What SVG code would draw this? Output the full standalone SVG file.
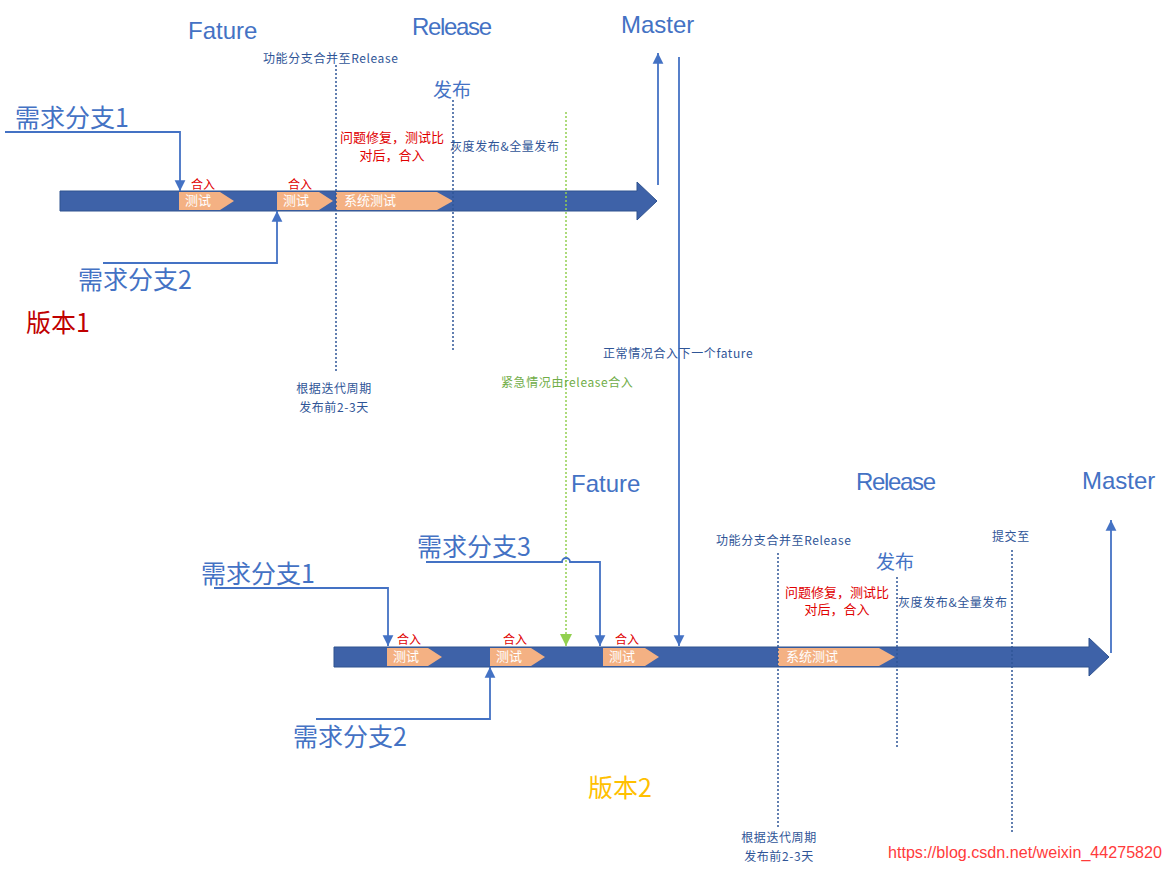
<svg xmlns="http://www.w3.org/2000/svg" width="1172" height="871" viewBox="0 0 1172 871">
<style>
.bar{fill:#3E62A8;stroke:#2F528F;stroke-width:1}
.box{fill:#F4B183}
.boxt{font-family:"Noto Sans CJK SC",sans-serif;font-size:13px;fill:#FFFFFF}
.he{font-family:"Noto Sans CJK SC",sans-serif;font-size:12px;fill:#E00000}
.big{font-family:"Liberation Sans",Arial,sans-serif;font-size:24px;fill:#4472C4}
.br{font-family:"Noto Sans CJK SC",sans-serif;font-size:25px;fill:#4472C4}
.sm{font-family:"Noto Sans CJK SC",sans-serif;font-size:12px;fill:#2F5597;letter-spacing:0.6px}
.red{font-family:"Noto Sans CJK SC",sans-serif;font-size:13px;fill:#E00000}
.fb{font-family:"Noto Sans CJK SC",sans-serif;font-size:19px;fill:#4472C4}
.conn{fill:none;stroke:#4472C4;stroke-width:1.8}
.dot{fill:none;stroke:#2F5597;stroke-width:1.5;stroke-dasharray:2 2}
.gdot{fill:none;stroke:#92D050;stroke-width:1.5;stroke-dasharray:2 2}
</style>
<defs>
<marker id="ab" viewBox="0 0 10 10" refX="10" refY="5" markerWidth="6" markerHeight="7" markerUnits="strokeWidth" orient="auto"><path d="M0,0 L10,5 L0,10 Z" fill="#4472C4"/></marker>
<marker id="ag" viewBox="0 0 10 10" refX="10" refY="5" markerWidth="8" markerHeight="8" markerUnits="strokeWidth" orient="auto"><path d="M0,0 L10,5 L0,10 Z" fill="#92D050"/></marker>
</defs>

<g id="timeline1">
<path class="bar" d="M60,191 H637 V182 L657,201 L637,220 V211 H60 Z"/>
<path class="box" d="M179,192 H220 L234,201 L220,210 H179 Z"/>
<path class="box" d="M277,192 H319 L333,201 L319,210 H277 Z"/>
<path class="box" d="M336,192 H437 L453,201 L437,210 H336 Z"/>
<text class="boxt" x="185" y="205">测试</text>
<text class="boxt" x="283" y="205">测试</text>
<text class="boxt" x="344" y="205">系统测试</text>
<text class="he" x="191" y="189">合入</text>
<text class="he" x="288" y="189">合入</text>
</g>

<g id="timeline2">
<path class="bar" d="M334,647 H1089 V638 L1109,657 L1089,676 V667 H334 Z"/>
<path class="box" d="M387,648 H428 L442,657 L428,666 H387 Z"/>
<path class="box" d="M490,648 H531 L545,657 L531,666 H490 Z"/>
<path class="box" d="M603,648 H645 L659,657 L645,666 H603 Z"/>
<path class="box" d="M778,648 H879 L895,657 L879,666 H778 Z"/>
<text class="boxt" x="393" y="661">测试</text>
<text class="boxt" x="496" y="661">测试</text>
<text class="boxt" x="609" y="661">测试</text>
<text class="boxt" x="786" y="661">系统测试</text>
<text class="he" x="397" y="644">合入</text>
<text class="he" x="503" y="644">合入</text>
<text class="he" x="615" y="644">合入</text>
</g>

<g id="connectors">
<path class="conn" d="M5,132 H180 V191" marker-end="url(#ab)"/>
<path class="conn" d="M103,263 H277 V211" marker-end="url(#ab)"/>
<path class="conn" d="M658,185 V53" marker-end="url(#ab)"/>
<path class="conn" d="M679,57 V646" marker-end="url(#ab)"/>
<path class="gdot" d="M566,112 V646" marker-end="url(#ag)"/>
<path class="conn" d="M214,588 H388 V646" marker-end="url(#ab)"/>
<path class="conn" d="M426,562 H562 A4,4 0 0 1 570,562 H600 V646" marker-end="url(#ab)"/>
<path class="conn" d="M316,719 H490 V667" marker-end="url(#ab)"/>
<path class="conn" d="M1111,653 V520" marker-end="url(#ab)"/>
<path class="dot" d="M336,65 V372"/>
<path class="dot" d="M453,100 V352"/>
<path class="dot" d="M778,553 V828"/>
<path class="dot" d="M897,577 V748"/>
<path class="dot" d="M1012,550 V832"/>
</g>

<g id="labels1">
<text class="big" x="188" y="39">Fature</text>
<text class="big" x="412" y="35" textLength="80">Release</text>
<text class="big" x="621" y="33">Master</text>
<text class="sm" x="263" y="63">功能分支合并至Release</text>
<text class="fb" x="433" y="97">发布</text>
<text class="red" x="392" y="142" text-anchor="middle">问题修复，测试比</text>
<text class="red" x="392" y="160" text-anchor="middle">对后，合入</text>
<text class="sm" x="450" y="151">灰度发布&amp;全量发布</text>
<text class="br" x="15" y="127">需求分支1</text>
<text class="br" x="78" y="289">需求分支2</text>
<text class="br" x="26" y="332" style="fill:#C00000">版本1</text>
<text class="sm" x="334" y="393" text-anchor="middle">根据迭代周期</text>
<text class="sm" x="334" y="412" text-anchor="middle">发布前2-3天</text>
<text class="sm" x="603" y="358">正常情况合入下一个fature</text>
<text class="sm" x="501" y="387" style="fill:#70AD47">紧急情况由release合入</text>
</g>

<g id="labels2">
<text class="big" x="571" y="492">Fature</text>
<text class="big" x="856" y="490" textLength="80">Release</text>
<text class="big" x="1082" y="489">Master</text>
<text class="br" x="417" y="556">需求分支3</text>
<text class="br" x="201" y="583">需求分支1</text>
<text class="br" x="293" y="746">需求分支2</text>
<text class="sm" x="716" y="545">功能分支合并至Release</text>
<text class="sm" x="992" y="541">提交至</text>
<text class="fb" x="876" y="569">发布</text>
<text class="red" x="837" y="597" text-anchor="middle">问题修复，测试比</text>
<text class="red" x="837" y="614" text-anchor="middle">对后，合入</text>
<text class="sm" x="898" y="607">灰度发布&amp;全量发布</text>
<text class="sm" x="779" y="842" text-anchor="middle">根据迭代周期</text>
<text class="sm" x="779" y="861" text-anchor="middle">发布前2-3天</text>
<text class="br" x="588" y="797" style="fill:#FFC000">版本2</text>
<text x="888" y="858" textLength="274" lengthAdjust="spacingAndGlyphs" style="font-family:'Liberation Sans',Arial,sans-serif;font-size:16px;fill:#FF3B3B">https://blog.csdn.net/weixin_44275820</text>
</g>
</svg>
